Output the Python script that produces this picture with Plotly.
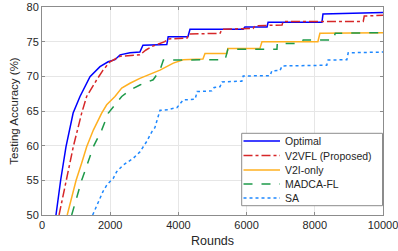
import plotly.graph_objects as go

# ---- data ----
opt_x = [410, 548, 704, 913, 1114, 1408, 1700, 1940, 2140, 2290, 2580, 2870, 2960, 3400, 3660, 3700, 4280, 4340, 5900, 5950, 6600, 6630, 8210, 8240, 10000]
opt_y = [50, 55.05, 59.85, 64.7, 67.1, 69.95, 71.4, 72.1, 72.4, 73.1, 73.4, 73.5, 74.5, 74.5, 74.6, 75.7, 75.7, 76.8, 76.8, 77.1, 77.1, 77.8, 77.8, 79.0, 79.2]

v2vfl_x = [500, 704, 918, 1164, 1310, 1604, 1790, 1995, 2290, 2870, 3050, 3220, 3400, 3600, 3700, 4250, 4300, 5220, 5280, 6190, 6250, 7040, 7070, 9420, 9450, 10000]
v2vfl_y = [50, 55.05, 59.85, 64.7, 67.1, 69.5, 70.9, 72.1, 72.9, 73.1, 73.8, 74.3, 74.6, 75.0, 75.4, 75.5, 76.1, 76.2, 76.8, 76.9, 77.3, 77.4, 77.9, 77.9, 78.7, 78.8]

v2i_x = [740, 1000, 1164, 1310, 1506, 1750, 1897, 2140, 2337, 2580, 2870, 3260, 3460, 3850, 4140, 4720, 4780, 5420, 5450, 6390, 6450, 8090, 8150, 10000]
v2i_y = [50, 55.0, 57.5, 59.85, 62.25, 64.7, 65.9, 67.1, 68.3, 69.0, 69.7, 70.5, 70.9, 71.9, 72.4, 72.5, 73.3, 73.3, 74.0, 74.0, 75.0, 75.0, 76.2, 76.3]

madca_x = [870, 1164, 1506, 1750, 1945, 2140, 2337, 2580, 2870, 3260, 3460, 3560, 4560, 4630, 5370, 5450, 6890, 6900, 7570, 7660, 8540, 8600, 10000]
madca_y = [50, 55.0, 59.85, 62.25, 64.7, 65.9, 67.1, 68.0, 68.75, 69.5, 70.9, 72.35, 72.35, 72.4, 72.4, 73.9, 73.9, 74.75, 74.75, 75.25, 75.25, 76.2, 76.3]

sa_x = [1486, 1604, 1790, 1910, 2090, 2190, 2380, 2680, 2870, 3070, 3220, 3310, 3370, 3460, 3700, 3960, 4140, 4490, 4550, 4980, 5050, 5220, 5280, 5860, 5900, 6690, 6740, 6980, 7040, 8350, 8390, 8940, 8980, 10000]
sa_y = [50, 51.4, 53.4, 54.4, 55.3, 56.25, 57.2, 58.2, 59.1, 60.6, 62.0, 62.6, 63.7, 65.1, 65.2, 65.5, 66.6, 66.7, 67.8, 67.9, 68.4, 68.5, 69.2, 69.3, 70.05, 70.1, 70.8, 70.85, 71.5, 71.6, 72.35, 72.4, 73.4, 73.5]

names = ["Optimal", "V2VFL (Proposed)", "V2I-only", "MADCA-FL", "SA"]
xs = [opt_x, v2vfl_x, v2i_x, madca_x, sa_x]
ys = [opt_y, v2vfl_y, v2i_y, madca_y, sa_y]
colors = ["#0000FF", "#D62728", "#FFB020", "#1E9A4A", "#1E88FF"]
dashes = ["solid", "dashdot", "solid", "dash", "dot"]

x_ticks = [0, 2000, 4000, 6000, 8000, 10000]
y_ticks = [50, 55, 60, 65, 70, 75, 80]

FONT = "Liberation Sans, Arial"
TXT = "#262626"
EDGE = "#8c8c8c"

fig = go.Figure()
for n, x, y, c, d in zip(names, xs, ys, colors, dashes):
    fig.add_trace(go.Scatter(
        x=x, y=y, mode="lines", name=n, showlegend=False,
        line=dict(color=c, width=1.5, dash=d),
    ))

axis_common = dict(
    showline=True, linecolor=EDGE, linewidth=1, mirror="ticks",
    ticks="inside", ticklen=3, tickcolor=EDGE,
    showgrid=True, gridcolor="#e6e6e6", gridwidth=1, zeroline=False,
    automargin=False, ticklabeloverflow="allow",
    tickfont=dict(family=FONT, size=11, color=TXT),
)

fig.update_xaxes(range=[0, 10000], tickvals=x_ticks, ticktext=[str(v) for v in x_ticks],
                 title=dict(text="Rounds", font=dict(family=FONT, size=12.5, color=TXT), standoff=6),
                 **axis_common)
fig.update_yaxes(range=[50, 80], tickvals=y_ticks, ticktext=[str(v) for v in y_ticks],
                 title=dict(text="Testing Accuracy (%)", font=dict(family=FONT, size=11.5, color=TXT), standoff=5),
                 **axis_common)

# ---- manual legend (MATLAB-style compact box) ----
L, R, B, T = 42, 383, 215, 7
def px(v):
    return (v - L) / (R - L)
def py(v):
    return (B - v) / (B - T)

shapes = [dict(type="rect", xref="paper", yref="paper",
               x0=px(241.7), x1=px(382.5), y0=py(205.7), y1=py(133.3),
               fillcolor="white", line=dict(color=EDGE, width=1), layer="above")]
annotations = []
entry_y = [141, 155.5, 170, 184, 198]
for n, c, d, ey in zip(names, colors, dashes, entry_y):
    shapes.append(dict(type="line", xref="paper", yref="paper",
                       x0=px(243.5), x1=px(280), y0=py(ey), y1=py(ey),
                       line=dict(color=c, width=1.5, dash=d), layer="above"))
    annotations.append(dict(xref="paper", yref="paper", x=px(282.5), y=py(ey),
                            text=n, showarrow=False, xanchor="left", yanchor="middle",
                            font=dict(family=FONT, size=10.5, color=TXT)))

fig.update_layout(
    width=398, height=251,
    margin=dict(l=L, r=398 - R, t=T, b=251 - B, autoexpand=False),
    plot_bgcolor="white", paper_bgcolor="white",
    font=dict(family=FONT, size=11, color=TXT),
    showlegend=False,
    shapes=shapes, annotations=annotations,
)

fig.write_html("out.html",
               config={"displayModeBar": False, "staticPlot": True},
               post_script="document.body.style.margin='0';document.body.style.padding='0';")
